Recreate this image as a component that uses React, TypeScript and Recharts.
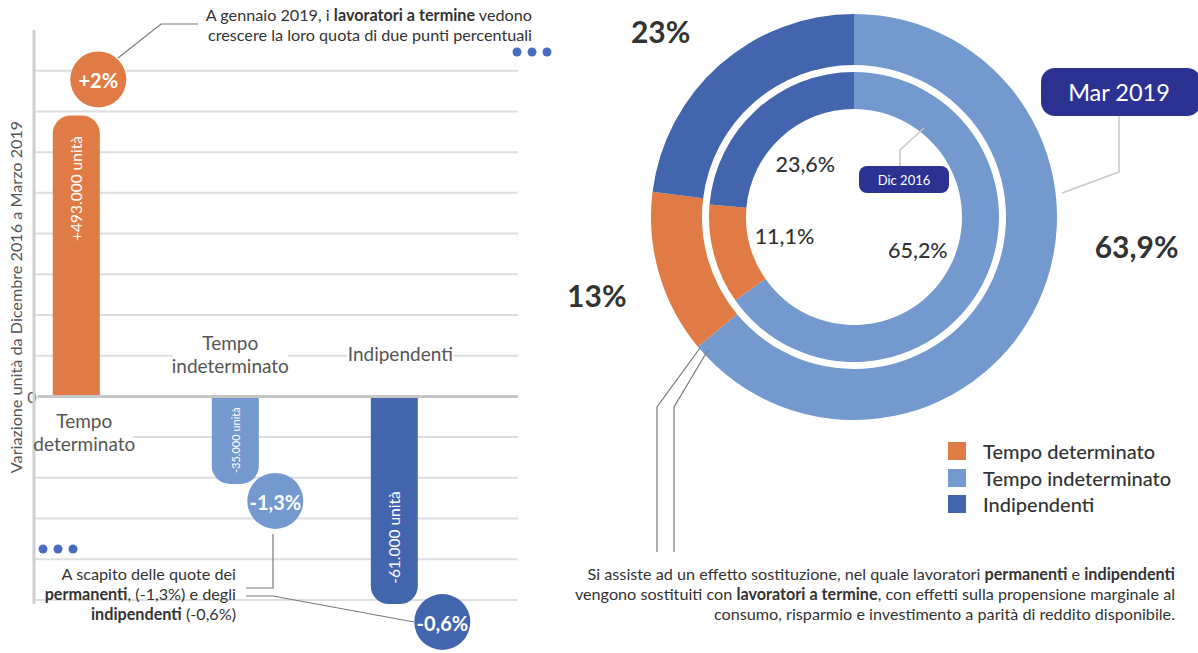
import React from 'react';
import {
  BarChart, Bar, XAxis, YAxis, CartesianGrid, ReferenceLine, LabelList, Cell,
  PieChart, Pie, Legend,
} from 'recharts';

// left panel: change Dec 2016 -> Mar 2019
const categories = ['Tempo determinato', 'Tempo indeterminato', 'Indipendenti'];
const categoryLines = [['Tempo', 'determinato'], ['Tempo', 'indeterminato'], ['Indipendenti']];
// the infographic is not drawn to scale, so bar lengths are read in grid steps
const barLengths = [6.9, -2.15, -5.1];
const unitLabels = ['+493.000 unità', '-35.000 unità', '-61.000 unità'];
const shareChanges = ['+2%', '-1,3%', '-0,6%'];
const gridTicks = [-5, -4, -3, -2, -1, 0, 1, 2, 3, 4, 5, 6, 7, 8];

// right panel: shares, clockwise from 12 o'clock
const pieOrder = ['Tempo indeterminato', 'Tempo determinato', 'Indipendenti'];
const sharesMar2019 = [63.9, 13, 23];
const sharesDic2016 = [65.2, 11.1, 23.6];
const labelsMar2019 = ['63,9%', '13%', '23%'];
const labelsDic2016 = ['65,2%', '11,1%', '23,6%'];

const COLORS: Record<string, string> = {
  'Tempo determinato': '#E07B45',
  'Tempo indeterminato': '#7499CF',
  'Indipendenti': '#4365AE',
};
const NAVY = '#2B3292';
const FONT = 'Lato, "Open Sans", sans-serif';
const TEXT = '#333';
const NOTE = 16.2;

const barData = categories.map((name, i) => ({ name, i, v: barLengths[i] }));
const outerData = pieOrder.map((name, i) => ({ name, value: sharesMar2019[i] }));
const innerData = pieOrder.map((name, i) => ({ name, value: sharesDic2016[i] }));

// per-bar decoration tweaks
const barDecor = [
  { unitAt: 0.74, unitSize: 15.5, nameDx: 8, bubbleDx: 22, bubbleDy: -36 },
  { unitAt: 0.5, unitSize: 11, nameDx: -5, bubbleDx: 40, bubbleDy: 17 },
  { unitAt: 0.68, unitSize: 15.5, nameDx: 6, bubbleDx: 48, bubbleDy: 18 },
];
const outerNudge = [{ dx: 40, dy: -85 }, { dx: 0, dy: 3 }, { dx: -16, dy: 15 }];

const RoundedEndBar = (props: any) => {
  const { x, y, width, height, fill, payload } = props;
  const top = Math.min(y, y + height);
  const h = Math.abs(height);
  const r = Math.min(18, h, width / 2);
  const w = width;
  let d;
  if (payload.v >= 0) {
    d = `M${x},${top + h} L${x},${top + r} A${r},${r} 0 0 1 ${x + r},${top} L${x + w - r},${top} A${r},${r} 0 0 1 ${x + w},${top + r} L${x + w},${top + h} Z`;
  } else {
    d = `M${x},${top} L${x + w},${top} L${x + w},${top + h - r} A${r},${r} 0 0 1 ${x + w - r},${top + h} L${x + r},${top + h} A${r},${r} 0 0 1 ${x},${top + h - r} Z`;
  }
  return <path d={d} fill={fill} />;
};

const BarAnnotations = (props: any) => {
  const { index } = props;
  const vb = props.viewBox && props.viewBox.x != null ? props.viewBox : props;
  const y0 = vb.y;
  const y1 = vb.y + vb.height;
  const positive = barLengths[index] >= 0;
  const zeroY = positive ? Math.max(y0, y1) : Math.min(y0, y1);
  const endY = positive ? Math.min(y0, y1) : Math.max(y0, y1);
  const cx = vb.x + vb.width / 2;
  const st = barDecor[index];
  const color = COLORS[categories[index]];
  const unitY = zeroY + (endY - zeroY) * st.unitAt;
  const lines = categoryLines[index];
  const lineH = 22.5;
  const blockMid = positive ? zeroY + 35 : zeroY - 43;
  const firstY = blockMid - ((lines.length - 1) * lineH) / 2;
  const boxW = Math.max(...lines.map((l) => l.length)) * 9 - 2;
  const nx = cx + st.nameDx;
  const bx = cx + st.bubbleDx;
  const by = endY + st.bubbleDy;
  return (
    <g fontFamily={FONT}>
      <text x={cx} y={unitY} transform={`rotate(-90 ${cx} ${unitY})`} textAnchor="middle"
        dominantBaseline="central" fill="#fff" fontSize={st.unitSize}>
        {unitLabels[index]}
      </text>
      <rect x={nx - boxW / 2} y={firstY - 13} width={boxW} height={lines.length * lineH + 4} fill="#fff" />
      <text textAnchor="middle" dominantBaseline="central" fill="#555" fontSize={19}>
        {lines.map((l, i) => (
          <tspan key={i} x={nx} y={firstY + i * lineH}>{l}</tspan>
        ))}
      </text>
      <circle cx={bx} cy={by} r={28} fill={color} />
      <text x={bx} y={by + 1} textAnchor="middle" dominantBaseline="central" fill="#fff"
        fontSize={20} fontWeight={700}>
        {shareChanges[index]}
      </text>
    </g>
  );
};

const ZeroLabel = (props: any) => {
  const { viewBox } = props;
  return (
    <text x={viewBox.x - 2} y={viewBox.y} textAnchor="middle" dominantBaseline="central"
      fontSize={16} fill="#555" fontFamily={FONT} stroke="#fff" strokeWidth={3} paintOrder="stroke">
      0
    </text>
  );
};

const EmptyTick = () => <g />;

const RAD = Math.PI / 180;

const outerLabel = (p: any) => {
  const n = outerNudge[p.index];
  const x = p.cx + 268 * Math.cos(-p.midAngle * RAD) + n.dx;
  const y = p.cy + 268 * Math.sin(-p.midAngle * RAD) + n.dy;
  return (
    <text x={x} y={y} textAnchor="middle" dominantBaseline="central" fill={TEXT}
      fontSize={30} fontWeight={700} fontFamily={FONT}>
      {labelsMar2019[p.index]}
    </text>
  );
};

const innerLabel = (p: any) => {
  const x = p.cx + 72 * Math.cos(-p.midAngle * RAD);
  const y = p.cy + 72 * Math.sin(-p.midAngle * RAD);
  return (
    <text x={x} y={y} textAnchor="middle" dominantBaseline="central" fill={TEXT}
      fontSize={21.5} fontWeight={500} fontFamily={FONT}>
      {labelsDic2016[p.index]}
    </text>
  );
};

const LegendBox = () => (
  <div style={{ fontFamily: FONT }}>
    {categories.map((c) => (
      <div key={c} style={{ display: 'flex', alignItems: 'center', height: 26.5 }}>
        <span style={{ width: 18, height: 18, background: COLORS[c], display: 'inline-block', marginRight: 17 }} />
        <span style={{ fontSize: 20, color: TEXT, fontWeight: 500 }}>{c}</span>
      </div>
    ))}
  </div>
);

const Dots = ({ x, y }: { x: number; y: number }) => (
  <g fill="#4A6CC0">
    {[0, 1, 2].map((i) => <circle key={i} cx={x + i * 15} cy={y} r={4.5} />)}
  </g>
);

export default function App() {
  return (
    <div style={{ position: 'absolute', left: 0, top: 0, width: 1198, height: 653, background: '#fff', fontFamily: FONT }}>
      <div style={{ position: 'absolute', left: 0, top: 0 }}>
        <BarChart width={560} height={653} data={barData} margin={{ top: 30, right: 42, bottom: 49, left: 24 }}>
          <CartesianGrid vertical={false} horizontalValues={gridTicks} stroke="#dedede" strokeWidth={2} />
          <XAxis dataKey="i" type="number" domain={[-0.266, 2.778]} allowDataOverflow hide />
          <YAxis type="number" domain={[-5, 9]} ticks={gridTicks} width={10} tick={EmptyTick} tickLine={false}
            axisLine={{ stroke: '#cfcfcf', strokeWidth: 3 }} />
          <ReferenceLine y={0} stroke="#c6c6c6" strokeWidth={3} label={<ZeroLabel />} />
          <Bar dataKey="v" barSize={47} shape={RoundedEndBar} isAnimationActive={false}>
            {barData.map((d) => <Cell key={d.name} fill={COLORS[d.name]} />)}
            <LabelList dataKey="v" content={<BarAnnotations />} />
          </Bar>
        </BarChart>
      </div>

      <div style={{ position: 'absolute', left: 560, top: 0 }}>
        <PieChart width={638} height={653} margin={{ top: 0, right: 0, bottom: 0, left: 0 }}>
          <Pie data={outerData} dataKey="value" cx={294} cy={217} innerRadius={152} outerRadius={203}
            startAngle={90} endAngle={-270} stroke="none" label={outerLabel} labelLine={false}
            isAnimationActive={false}>
            {outerData.map((d) => <Cell key={d.name} fill={COLORS[d.name]} />)}
          </Pie>
          <Pie data={innerData} dataKey="value" cx={294} cy={217} innerRadius={108} outerRadius={145}
            startAngle={90} endAngle={-270} stroke="none" label={innerLabel} labelLine={false}
            isAnimationActive={false}>
            {innerData.map((d) => <Cell key={d.name} fill={COLORS[d.name]} />)}
          </Pie>
          <Legend content={<LegendBox />} wrapperStyle={{ position: 'absolute', left: 388, top: 438, width: 260, bottom: 'auto' }} />
        </PieChart>
      </div>

      <svg width={1198} height={653} style={{ position: 'absolute', left: 0, top: 0, pointerEvents: 'none' }}
        fontFamily={FONT}>
        <text transform="rotate(-90)" x={-297} y={15} textAnchor="middle" dominantBaseline="central"
          fontSize={16.2} fill="#555">
          Variazione unità da Dicembre 2016 a Marzo 2019
        </text>

        <g fontSize={NOTE} fill={TEXT} textAnchor="end" dominantBaseline="central">
          <text x={532} y={14}>A gennaio 2019, i <tspan fontWeight={700}>lavoratori a termine</tspan> vedono</text>
          <text x={532} y={34}>crescere la loro quota di due punti percentuali</text>
          <text x={236} y={573}>A scapito delle quote dei</text>
          <text x={236} y={593}><tspan fontWeight={700}>permanenti</tspan>, (-1,3%) e degli</text>
          <text x={236} y={613}><tspan fontWeight={700}>indipendenti</tspan> (-0,6%)</text>
          <text x={1175} y={573}>
            Si assiste ad un effetto sostituzione, nel quale lavoratori <tspan fontWeight={700}>permanenti</tspan> e <tspan fontWeight={700}>indipendenti</tspan>
          </text>
          <text x={1175} y={593}>
            vengono sostituiti con <tspan fontWeight={700}>lavoratori a termine</tspan>, con effetti sulla propensione marginale al
          </text>
          <text x={1175} y={613}>
            consumo, risparmio e investimento a parità di reddito disponibile.
          </text>
        </g>

        <g fill="none" stroke="#7a7a7a" strokeWidth={1.2}>
          <polyline points="118,58 161,24 198,24" />
          <polyline points="273,534 273,588 246,588" />
          <polyline points="246,596 273,596 414,622" />
          <polyline points="700,348 657,407 657,552" />
          <polyline points="708,350 674,407 674,552" />
        </g>
        <g fill="none" stroke="#c8c8c8" strokeWidth={1.5}>
          <polyline points="1119,116 1119,172 1062,193" />
          <polyline points="900,166 900,150 924,128" />
        </g>

        <Dots x={517} y={52} />
        <Dots x={43} y={549} />

        <rect x={1041} y={68} width={160} height={48} rx={14} fill={NAVY} />
        <text x={1119} y={92} textAnchor="middle" dominantBaseline="central" fill="#fff" fontSize={23.5}>Mar 2019</text>
        <rect x={859} y={166} width={90} height={27} rx={8} fill={NAVY} />
        <text x={904} y={180} textAnchor="middle" dominantBaseline="central" fill="#fff" fontSize={13}>Dic 2016</text>
      </svg>
    </div>
  );
}
